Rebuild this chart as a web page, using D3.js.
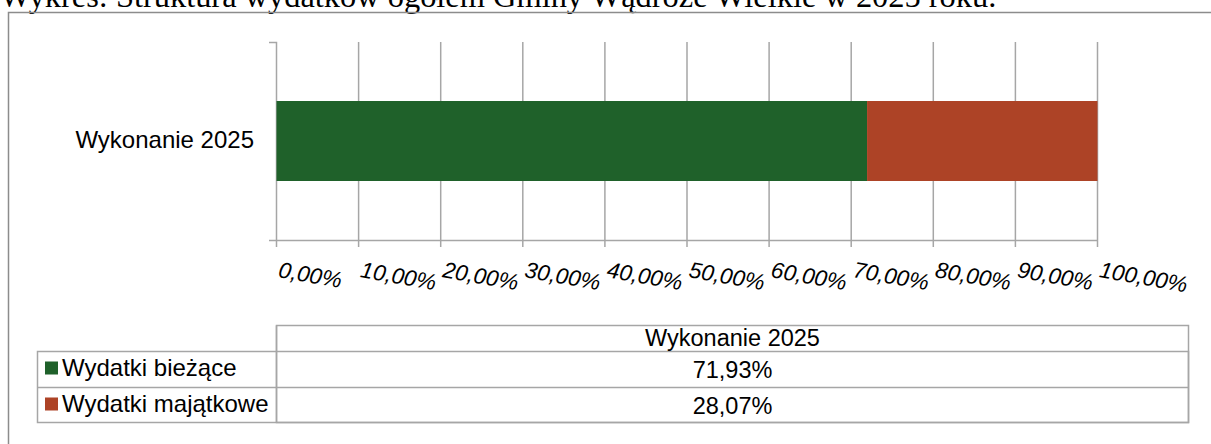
<!DOCTYPE html>
<html>
<head>
<meta charset="utf-8">
<script src="https://cdn.jsdelivr.net/npm/d3@7"></script>
<style>
  body { margin: 0; background: #fff; }
  svg { display: block; }
</style>
</head>
<body>
<svg id="chart" width="1211" height="444"></svg>
<script>
// chart values
var title = 'Wykres: Struktura wydatków ogółem Gminy Wądroże Wielkie w 2025 roku.';
var categories = ['Wykonanie 2025'];
var seriesNames = ['Wydatki bieżące', 'Wydatki majątkowe'];
var seriesValues = [71.93, 28.07];
var seriesColors = ['#1f612a', '#ad4326'];
var tickValues = [0, 10, 20, 30, 40, 50, 60, 70, 80, 90, 100];

var fmt = function(v){ return d3.format('.2f')(v).replace('.', ',') + '%'; };

var svg = d3.select('#chart');
var gridColor = '#a6a6a6';
var font = "'Liberation Sans', Arial, sans-serif";

// title, cut at the top like the reference
var t = svg.append('text')
  .attr('x', 0).attr('y', 7)
  .attr('font-family', "'Liberation Serif', 'Times New Roman', serif")
  .attr('font-size', 30)
  .attr('fill', '#000')
  .text(title);
var tw = t.node().getComputedTextLength();
t.attr('font-size', 30 * 997 / tw);

// outer frame (left + top edges visible)
svg.append('path')
  .attr('d', 'M8.5,444 L8.5,12.5 L1211,12.5')
  .attr('fill', 'none').attr('stroke', '#8c8c8c').attr('stroke-width', 1.5);

// scales
var x = d3.scaleLinear().domain([0, 100]).range([276.5, 1097.5]);

// grid lines (with ticks below)
svg.append('g').selectAll('line')
  .data(tickValues.slice(1))
  .enter().append('line')
    .attr('x1', function(d){ return x(d); }).attr('x2', function(d){ return x(d); })
    .attr('y1', 42).attr('y2', 247)
    .attr('stroke', gridColor).attr('stroke-width', 1.5);

// category axis
svg.append('path')
  .attr('d', 'M269,42.5 L276.5,42.5 L276.5,247 M269,240.5 L1097.5,240.5')
  .attr('fill', 'none').attr('stroke', gridColor).attr('stroke-width', 1.5);

// stacked bar
var stack = [];
var acc = 0;
seriesValues.forEach(function(v, i){
  stack.push({start: acc, end: acc + v, color: seriesColors[i]});
  acc += v;
});
svg.append('g').selectAll('rect')
  .data(stack)
  .enter().append('rect')
    .attr('x', function(d){ return x(d.start); })
    .attr('width', function(d){ return x(d.end) - x(d.start); })
    .attr('y', 101)
    .attr('height', 80)
    .attr('fill', function(d){ return d.color; });

// category label
svg.append('text')
  .attr('x', 254).attr('y', 148)
  .attr('text-anchor', 'end')
  .attr('font-family', font)
  .attr('font-size', 24)
  .text(categories[0]);

// tick labels, italic and slightly rotated
svg.append('g').selectAll('text')
  .data(tickValues)
  .enter().append('text')
    .attr('transform', function(d){ return 'translate(' + (x(d) + 1) + ',277) rotate(10)'; })
    .attr('font-family', font)
    .attr('font-style', 'italic')
    .attr('font-size', 22.5)
    .text(fmt);

// data table
var tbl = svg.append('g')
  .attr('fill', 'none').attr('stroke', gridColor).attr('stroke-width', 1.5);
tbl.append('rect').attr('x', 276.5).attr('y', 325.5).attr('width', 912).attr('height', 97);
tbl.append('rect').attr('x', 37.5).attr('y', 351.5).attr('width', 1151).attr('height', 71);
tbl.append('line').attr('x1', 37.5).attr('x2', 1188.5).attr('y1', 387.5).attr('y2', 387.5);
tbl.append('line').attr('x1', 276.5).attr('x2', 276.5).attr('y1', 325.5).attr('y2', 422.5);

svg.append('text')
  .attr('x', 732.5).attr('y', 346)
  .attr('text-anchor', 'middle')
  .attr('font-family', font).attr('font-size', 23.5)
  .text(categories[0]);

var rowY = [351.5, 387.5];
var rows = svg.append('g').selectAll('g')
  .data(seriesNames)
  .enter().append('g');
rows.append('rect')
  .attr('x', 45).attr('y', function(d, i){ return rowY[i] + 10; })
  .attr('width', 13).attr('height', 13)
  .attr('fill', function(d, i){ return seriesColors[i]; });
rows.append('text')
  .attr('x', 62).attr('y', function(d, i){ return rowY[i] + 24.5; })
  .attr('font-family', font).attr('font-size', 24)
  .text(function(d){ return d; });
rows.append('text')
  .attr('x', 732.5).attr('y', function(d, i){ return rowY[i] + 26; })
  .attr('text-anchor', 'middle')
  .attr('font-family', font).attr('font-size', 23.5)
  .text(function(d, i){ return fmt(seriesValues[i]); });
</script>
</body>
</html>
